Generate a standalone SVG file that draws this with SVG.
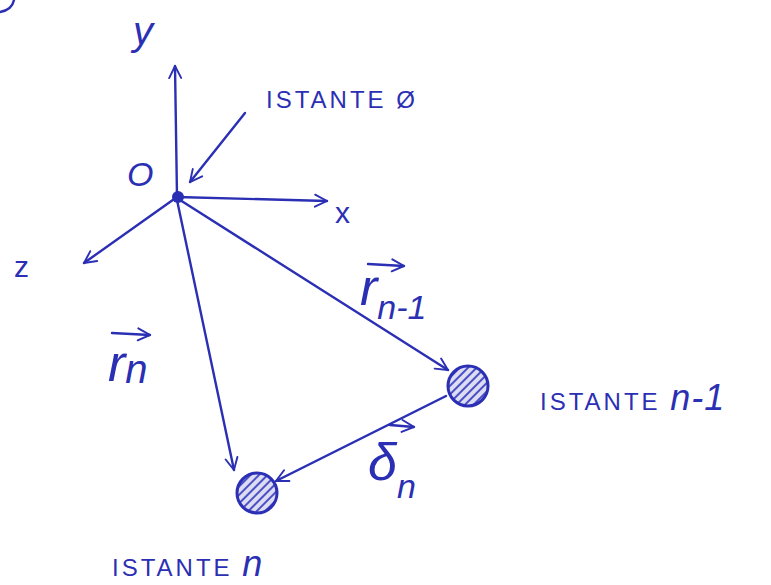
<svg xmlns="http://www.w3.org/2000/svg" width="771" height="585" viewBox="0 0 771 585">
<defs>
<style>
.ln{stroke:#2b2fb3;stroke-width:2.4;fill:none;stroke-linecap:round;stroke-linejoin:round}
.t{fill:#2b2fb3;font-family:"Liberation Sans",Arial,sans-serif}
.cap{font-size:24px;letter-spacing:3px}
.var{font-style:italic;font-size:52px}
.sub{font-style:italic;font-size:40px}
.ball{fill:url(#hatch);stroke:#2b2fb3;stroke-width:3}
</style>
<marker id="ah" viewBox="0 0 12 12" refX="11" refY="6" markerWidth="6" markerHeight="6" markerUnits="strokeWidth" orient="auto">
<path d="M1,1 L11,6 L1,11" fill="none" stroke="#2b2fb3" stroke-width="1.6" stroke-linecap="round"/>
</marker>
<pattern id="hatch" width="6" height="6" patternUnits="userSpaceOnUse" patternTransform="rotate(-45)">
<rect width="6" height="6" fill="#dcdcf2"/>
<line x1="0" y1="3" x2="6" y2="3" stroke="#3a3fbf" stroke-width="1.8"/>
</pattern>
</defs>
<rect width="771" height="585" fill="#ffffff"/>
<path class="ln" d="M0,12 Q12,10 14,0"/>
<g id="connectors">
<path class="ln" d="M177,197 L175,66" marker-end="url(#ah)"/>
<path class="ln" d="M177,197 L327,201" marker-end="url(#ah)"/>
<path class="ln" d="M177,197 L84,263" marker-end="url(#ah)"/>
<path class="ln" d="M245,113 L190,182" marker-end="url(#ah)"/>
<path class="ln" d="M177,200 L234,470" marker-end="url(#ah)"/>
<path class="ln" d="M180,200 L448,370" marker-end="url(#ah)"/>
<path class="ln" d="M446,396 L276,481" marker-end="url(#ah)"/>
</g>
<g id="origin">
<circle cx="178" cy="197" r="6" fill="#2b2fb3"/>
<text class="t" style="font-size:34px;font-style:italic" x="127" y="186">O</text>
</g>
<g id="axis-y"><text class="t" style="font-size:40px;font-style:italic" x="133" y="45">y</text></g>
<g id="axis-x"><text class="t" style="font-size:30px" x="335" y="223">x</text></g>
<g id="axis-z"><text class="t" style="font-size:30px" x="14" y="277">z</text></g>
<g id="label-istante-0"><text class="t cap" x="266" y="108">ISTANTE Ø</text></g>
<g id="ball-n-1">
<circle class="ball" cx="468" cy="386" r="20"/>
<text class="t cap" x="540" y="410">ISTANTE  <tspan style="font-size:36px;font-style:italic;letter-spacing:1px">n-1</tspan></text>
</g>
<g id="ball-n">
<circle class="ball" cx="257" cy="493" r="20"/>
<text class="t cap" x="112" y="576">ISTANTE <tspan style="font-size:36px;font-style:italic">n</tspan></text>
</g>
<g id="label-rn">
<path class="ln" d="M112,333 L150,335" marker-end="url(#ah)"/>
<text class="t var" x="108" y="381">r<tspan class="sub" dy="2">n</tspan></text>
</g>
<g id="label-rn-1">
<path class="ln" d="M368,264 L404,266" marker-end="url(#ah)"/>
<text class="t var" x="360" y="305">r<tspan class="sub" dy="14" style="font-size:34px">n-1</tspan></text>
</g>
<g id="label-delta">
<path class="ln" d="M390,425 L414,427" marker-end="url(#ah)"/>
<text class="t var" x="368" y="480">δ<tspan class="sub" dy="18" style="font-size:34px">n</tspan></text>
</g>
</svg>
